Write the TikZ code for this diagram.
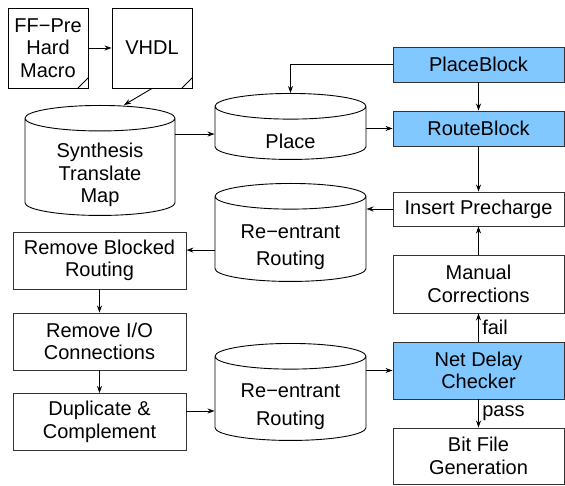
\documentclass[tikz,border=0pt]{standalone}
\usepackage{fontspec}
\setmainfont{Liberation Sans}
\usetikzlibrary{shapes.geometric,arrows.meta,positioning}
\definecolor{blockblue}{RGB}{128,200,255}
\tikzset{every node/.style={font=\fontsize{20}{22.5}\selectfont, align=center},
    stepbox/.style={draw=black!80, rectangle, inner sep=0pt, minimum width=171pt},
    hotbox/.style={stepbox, fill=blockblue},
    leftbox/.style={draw=black!80, inner sep=0pt, minimum width=173pt, minimum height=57pt},
    srcfile/.style={draw, inner sep=0pt, minimum width=80pt, minimum height=80pt},
    dbase/.style={draw, cylinder, shape border rotate=90, aspect=0.17,
        inner sep=0pt, anchor=north,
        label={[yshift=-8pt]center:#1}},
    }

\begin{document}
\begin{tikzpicture}[x=1pt, y=-1pt, line width=0.9pt,
    >={Stealth[length=7pt,width=5pt]}]
	\useasboundingbox (0,0) rectangle (565,486);
	% source files and synthesis
	\node[srcfile] (ffPre) at (48,48) {FF−Pre\\Hard\\Macro};
	\node[srcfile] (vhdl) at (152,48) {VHDL};
	\node[dbase={Synthesis\\Translate\\Map}, minimum height=110pt] (synthMap) at (100,105) {\hspace*{150pt}};
	\node[dbase=Place, minimum height=66pt] (placeDb) at (290.5,93) {\hspace*{151pt}};
	% right column
	\node[hotbox, minimum height=35pt] (placeBlock) at (478.5,64.5) {PlaceBlock};
	\node[hotbox, minimum height=35pt] (routeBlock) at (478.5,128.5) {RouteBlock};
	\node[stepbox, minimum height=34pt] (insertPre) at (478.5,209) {Insert Precharge};
	\node[stepbox, minimum height=58pt] (manualCorr) at (478.5,284) {Manual\\Corrections};
	\node[hotbox, minimum height=57pt] (netDelay) at (478.5,370.5) {Net Delay\\Checker};
	\node[stepbox, minimum height=56pt] (bitFile) at (478.5,456) {Bit File\\Generation};
	% re-entrant routing
	\node[dbase={Re−entrant\\[5pt]Routing}, minimum height=98pt] (reentUpper) at (290.5,183) {\hspace*{151pt}};
	\node[dbase={Re−entrant\\[5pt]Routing}, minimum height=97pt] (reentLower) at (290.5,343) {\hspace*{151pt}};
	% left column
	\node[leftbox] (removeBlocked) at (99.5,260.5) {Remove Blocked\\Routing};
	\node[leftbox] (removeIO) at (99.5,341.5) {Remove I/O\\Connections};
	\node[leftbox] (dupComp) at (99.5,422) {Duplicate \&\\Complement};

	% folded corners
	\draw ([xshift=-11pt]ffPre.south east) -- ([yshift=11pt]ffPre.south east);
	\draw ([xshift=-11pt]vhdl.south east) -- ([yshift=11pt]vhdl.south east);

	\draw[->] (ffPre) -- (vhdl);
	\draw[->] (vhdl.south) -- ([xshift=24pt]synthMap.north);
	\draw[->] ([yshift=33pt]synthMap.east) coordinate (synthOut) -- (synthOut -| placeDb.west);
	\draw[->] (placeBlock.west) -| (placeDb.north);
	\draw[->] (placeDb.east |- routeBlock.west) -- (routeBlock.west);
	\draw[->] (placeBlock) -- (routeBlock);
	\draw[->] (routeBlock) -- (insertPre);
	\draw[->] (manualCorr) -- (insertPre);
	\draw[->] (netDelay) -- node[right]{fail} (manualCorr);
	\draw[->] (netDelay) -- node[right]{pass} (bitFile);
	\draw[->] (insertPre.west) -- (insertPre.west -| reentUpper.east);
	\draw[->] ([yshift=-11pt]reentUpper.west) coordinate (reentOut) -- (reentOut -| removeBlocked.east);
	\draw[->] (removeBlocked) -- (removeIO);
	\draw[->] (removeIO) -- (dupComp);
	\draw[->] ([yshift=11pt]dupComp.east) coordinate (dupOut) -- (dupOut -| reentLower.west);
	\draw[->] (reentLower.east |- netDelay.west) -- (netDelay.west);
\end{tikzpicture}
\end{document}
